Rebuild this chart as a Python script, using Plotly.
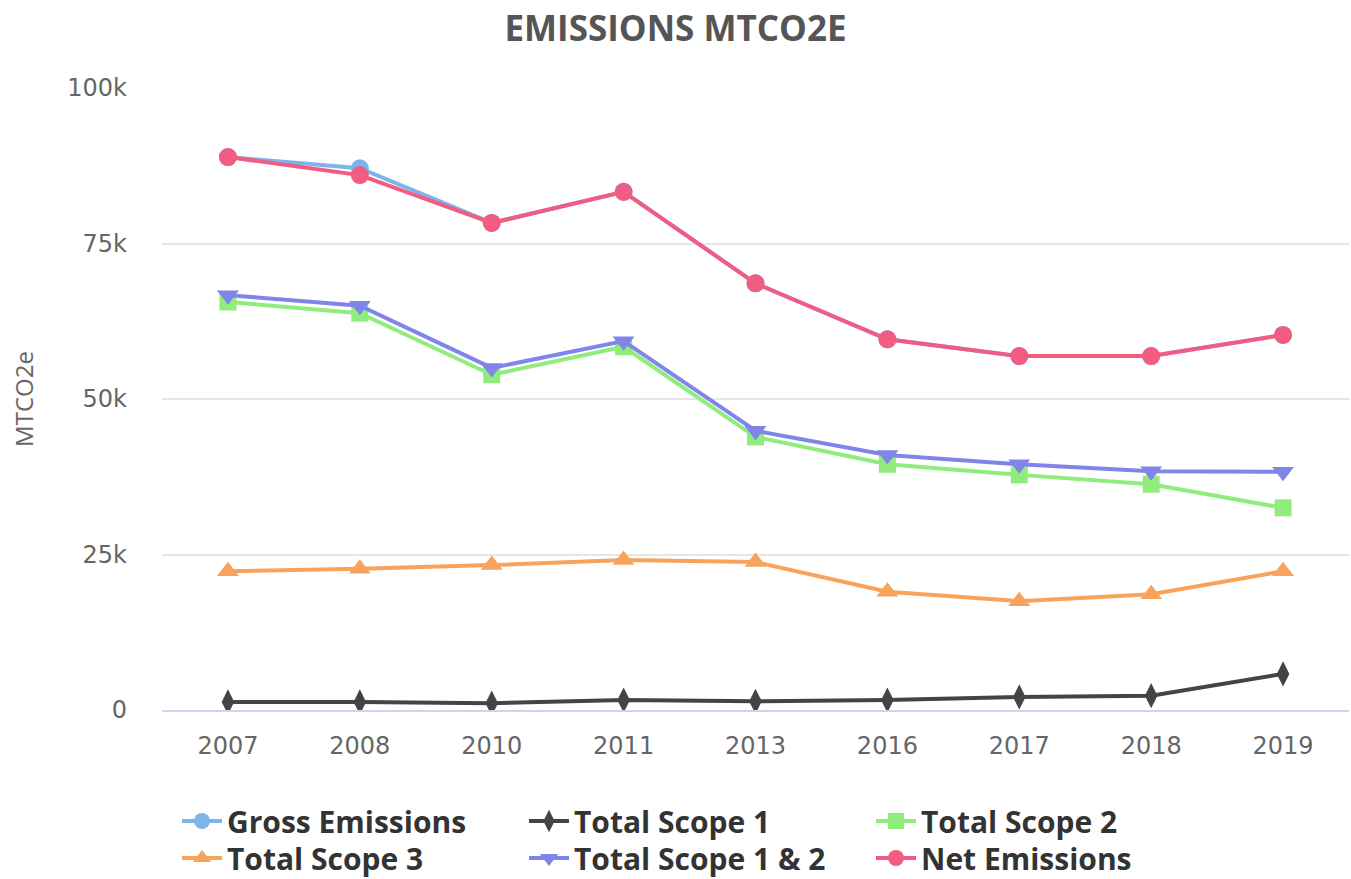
import plotly.graph_objects as go

years = ["2007", "2008", "2010", "2011", "2013", "2016", "2017", "2018", "2019"]
gross = [88900, 87100, 78300, 83300, 68600, 59600, 56900, 56900, 60300]
scope1 = [1300, 1300, 1100, 1600, 1400, 1600, 2100, 2300, 5800]
scope2 = [65600, 63800, 53900, 58400, 43900, 39500, 37800, 36300, 32500]
scope3 = [22300, 22700, 23300, 24100, 23800, 19000, 17500, 18600, 22300]
scope12 = [66700, 65000, 55000, 59300, 44900, 41000, 39500, 38400, 38300]
net = [88900, 86000, 78300, 83300, 68600, 59600, 56900, 56900, 60300]

series = [
    ("Gross Emissions", gross, "#7cb5ec", "circle", 18, "legend"),
    ("Total Scope 1", scope1, "#434348", "diamond-tall", 18, "legend"),
    ("Total Scope 2", scope2, "#90ed7d", "square", 17, "legend"),
    ("Total Scope 3", scope3, "#f7a35c", "triangle-up", 19, "legend2"),
    ("Total Scope 1 & 2", scope12, "#8085e9", "triangle-down", 19, "legend2"),
    ("Net Emissions", net, "#f15c80", "circle", 18, "legend2"),
]

fig = go.Figure()
for name, vals, color, sym, size, lg in series:
    fig.add_trace(go.Scatter(
        x=years, y=vals, name=name, mode="lines+markers", legend=lg,
        line=dict(color=color, width=4),
        marker=dict(color=color, symbol=sym, size=size, line=dict(width=0)),
    ))

W, H = 1351, 879
legend_font = dict(size=30, color="#333333", family="Open Sans, sans-serif", weight="bold")
common_legend = dict(orientation="h", xref="container", yref="container",
                     x=177 / W, xanchor="left", yanchor="middle",
                     entrywidth=292, entrywidthmode="pixels", itemwidth=40,
                     font=legend_font, bgcolor="rgba(0,0,0,0)")

fig.update_layout(
    width=W, height=H,
    paper_bgcolor="white", plot_bgcolor="white",
    margin=dict(l=162, r=2, t=88, b=169),
    font=dict(family="Open Sans, sans-serif", color="#666666"),
    title=dict(text="<b>EMISSIONS MTCO2E</b>", x=0.5, xanchor="center",
               yref="container", y=1 - 29 / H, yanchor="middle",
               font=dict(size=35, color="#555555", family="Open Sans, sans-serif")),
    xaxis=dict(type="category", range=[-0.5, len(years) - 0.5],
               showgrid=False, showline=True, linecolor="#ccd6eb",
               linewidth=2, ticks="", automargin=False,
               tickfont=dict(size=24, color="#666666", family="DejaVu Sans"),
               ticklabelstandoff=13),
    yaxis=dict(range=[0, 100000], tickvals=[0, 25000, 50000, 75000, 100000],
               ticktext=["0", "25k", "50k", "75k", "100k"], automargin=False,
               showgrid=True, gridcolor="#e6e6e6", gridwidth=2, zeroline=False,
               tickfont=dict(size=24, color="#666666", family="DejaVu Sans"),
               ticklabelstandoff=34,
               title=dict(text="MTCO2e", font=dict(size=24, color="#666666"), standoff=26)),
    legend=dict(common_legend, y=1 - 821 / H),
    legend2=dict(common_legend, y=1 - 858 / H),
    showlegend=True,
)

fig.write_html("out.html", config={"displayModeBar": False},
               post_script="document.body.style.margin='0px';")
